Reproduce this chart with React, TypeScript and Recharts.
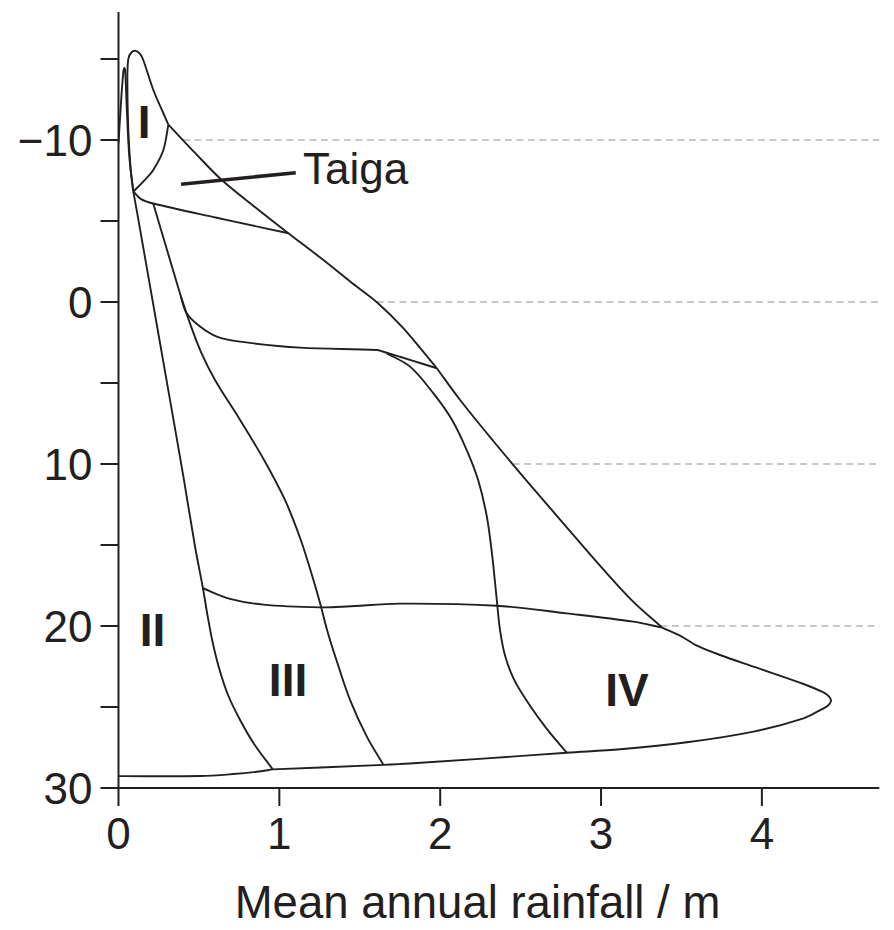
import React from 'react';
import { ComposedChart, Line, XAxis, YAxis, ReferenceLine, Scatter, Label } from 'recharts';

// Biome boundaries as (mean annual rainfall [m], mean annual temperature [°C]) pairs.
// The outer envelope is split at its corners so each piece is smoothed on its own.
const outerTundra: number[][] = [
  [0.092, -6.82], [0.076, -8.15], [0.061, -10.6], [0.055, -13.7], [0.061, -15.0],
  [0.08, -15.4], [0.108, -15.5], [0.135, -15.3], [0.154, -14.94], [0.216, -13.1],
  [0.279, -11.65], [0.31, -10.95],
];
const outerCool: number[][] = [
  [0.31, -10.95], [0.476, -9.2], [0.642, -7.53], [0.85, -5.85], [1.056, -4.24],
  [1.266, -2.65], [1.452, -1.17], [1.608, 0.03], [1.769, 1.6], [1.979, 4.09],
];
const outerWarm: number[][] = [
  [1.979, 4.09], [2.124, 6.05], [2.325, 8.52], [2.534, 10.99], [2.748, 13.46],
  [2.963, 15.93], [3.19, 18.4], [3.38, 20.1],
];
const outerTropical: number[][] = [
  [3.38, 20.1], [3.496, 20.62], [3.6, 21.23], [3.74, 21.79], [3.948, 22.51],
  [4.259, 23.58], [4.383, 24.1], [4.418, 24.36], [4.43, 24.62], [4.408, 24.94],
  [4.363, 25.19], [4.259, 25.7], [3.948, 26.52], [3.534, 27.18], [3.119, 27.61],
  [2.787, 27.82], [2.29, 28.17], [1.88, 28.44], [1.647, 28.57], [0.959, 28.85],
];
const outerDesert: number[][] = [
  [0.959, 28.85], [0.859, 29.0], [0.714, 29.14], [0.507, 29.26], [0, 29.27],
];
const boundarySpike: number[][] = [
  [0, -9.8], [0.016, -12.4], [0.03, -14.2], [0.036, -14.45], [0.042, -14.2],
  [0.051, -12.06], [0.067, -9.0], [0.092, -6.82],
];
const boundaryTaigaTop: number[][] = [
  [0.31, -10.95], [0.279, -9.38], [0.216, -8.15], [0.154, -7.43], [0.092, -6.82],
];
const boundaryTaigaBottom: number[][] = [
  [0.092, -6.82], [0.14, -6.35], [0.216, -6.08], [0.611, -5.2], [1.056, -4.24],
];
const boundaryIIWest: number[][] = [
  [0.092, -6.82], [0.115, -5.56], [0.233, 1.11], [0.342, 7.28], [0.407, 10.99],
  [0.476, 15.11], [0.525, 17.67], [0.553, 19.32], [0.585, 20.99], [0.625, 22.59],
  [0.681, 24.26], [0.756, 25.8], [0.843, 27.28], [0.959, 28.85],
];
const boundaryShelf: number[][] = [
  [0.216, -6.08], [0.386, -0.4], [0.424, 0.7], [0.507, 1.52], [0.611, 2.14],
  [0.756, 2.45], [1.129, 2.82], [1.606, 2.96], [1.647, 3.07], [1.75, 3.38], [1.979, 4.09],
];
const boundaryIIIEast: number[][] = [
  [0.386, -0.4], [0.448, 1.42], [0.513, 3.09], [0.6, 4.81], [0.756, 7.28],
  [0.905, 9.75], [1.035, 12.22], [1.129, 14.57], [1.197, 16.67], [1.253, 18.58],
  [1.302, 20.43], [1.365, 22.41], [1.44, 24.57], [1.544, 26.83], [1.647, 28.57],
];
const boundaryIVWest: number[][] = [
  [1.668, 3.17], [1.813, 3.99], [1.958, 5.64], [2.074, 7.28], [2.165, 9.14],
  [2.236, 10.99], [2.29, 13.25], [2.323, 15.62], [2.352, 18.4], [2.372, 20.25],
  [2.404, 21.85], [2.46, 23.33], [2.547, 24.75], [2.659, 26.3], [2.787, 27.82],
];
const boundaryMid: number[][] = [
  [0.525, 17.67], [0.693, 18.33], [0.9, 18.68], [1.253, 18.85], [1.419, 18.8],
  [1.75, 18.62], [2.352, 18.75], [2.787, 19.22], [3.2, 19.73], [3.38, 20.1],
];

const outerEnvelope = [outerTundra, outerCool, outerWarm, outerTropical, outerDesert];
const boundaries = [
  ...outerEnvelope, boundarySpike, boundaryTaigaTop, boundaryTaigaBottom,
  boundaryIIWest, boundaryShelf, boundaryIIIEast, boundaryIVWest, boundaryMid,
];

// Zone labels
const zoneLabels = [
  { r: 0.159, t: -11.1, text: 'I' },
  { r: 0.211, t: 20.2, text: 'II' },
  { r: 1.054, t: 23.33, text: 'III' },
  { r: 3.161, t: 23.95, text: 'IV' },
];
const taigaLabel = [{ r: 1.147, t: -8.27, text: 'Taiga' }];
const taigaPointer = [{ r: 0.389, t: -7.27 }, { r: 1.102, t: -7.98 }];

const xTicks = [0, 1, 2, 3, 4];
const yTicks = [-15, -10, -5, 0, 5, 10, 15, 20, 25, 30];
const yLabelled = [-10, 0, 10, 20, 30];
const gridLevels = [-10, 0, 10, 20];

const X_MAX = 4.73;
const Y_MIN = -17.9;
const Y_MAX = 30;

const INK = '#231f20';
const FONT = '"Liberation Sans", Arial, Helvetica, sans-serif';

const toPoints = (arr: number[][]) => arr.map(([r, t]) => ({ r, t }));

// Where the descending outer envelope first reaches a given temperature.
function envelopeCrossing(level: number): number {
  const path = outerEnvelope.flat();
  for (let i = 1; i < path.length; i++) {
    const [r0, t0] = path[i - 1];
    const [r1, t1] = path[i];
    if (t0 < level && t1 >= level) {
      return r0 + ((level - t0) / (t1 - t0)) * (r1 - r0);
    }
  }
  return 0;
}

// Catmull-Rom style curve with tangents scaled to the neighbouring segment lengths.
function smoothCurve(context: any) {
  let pts: [number, number][] = [];
  return {
    areaStart() {},
    areaEnd() {},
    lineStart() {
      pts = [];
    },
    point(x: number, y: number) {
      pts.push([+x, +y]);
    },
    lineEnd() {
      const n = pts.length;
      if (!n) return;
      context.moveTo(pts[0][0], pts[0][1]);
      if (n === 1) return;
      const d = (a: [number, number], b: [number, number]) => Math.hypot(b[0] - a[0], b[1] - a[1]);
      for (let i = 0; i < n - 1; i++) {
        const p0 = pts[Math.max(i - 1, 0)];
        const p1 = pts[i];
        const p2 = pts[i + 1];
        const p3 = pts[Math.min(i + 2, n - 1)];
        const d01 = d(p0, p1);
        const d12 = d(p1, p2);
        const d23 = d(p2, p3);
        const k1 = d01 + d12 > 0 ? d12 / (3 * (d01 + d12)) : 0;
        const k2 = d12 + d23 > 0 ? d12 / (3 * (d12 + d23)) : 0;
        context.bezierCurveTo(
          p1[0] + (p2[0] - p0[0]) * k1,
          p1[1] + (p2[1] - p0[1]) * k1,
          p2[0] - (p3[0] - p1[0]) * k2,
          p2[1] - (p3[1] - p1[1]) * k2,
          p2[0],
          p2[1]
        );
      }
    },
  };
}

const formatY = (v: number) =>
  yLabelled.includes(v) ? (v < 0 ? `\u2212${Math.abs(v)}` : String(v)) : '';

const renderZone = (props: any) => {
  const { cx, cy, payload } = props;
  return (
    <text
      x={cx}
      y={cy}
      dy="0.355em"
      textAnchor="middle"
      fontFamily={FONT}
      fontSize={46}
      fontWeight="bold"
      fill={INK}
    >
      {payload.text}
    </text>
  );
};

const renderTaiga = (props: any) => {
  const { cx, cy, payload } = props;
  return (
    <text x={cx} y={cy} dy="0.355em" textAnchor="start" fontFamily={FONT} fontSize={44} fill={INK}>
      {payload.text}
    </text>
  );
};

const renderXTitle = (props: any) => {
  const vb = props.viewBox || { x: 0, y: 0, width: 0, height: 0 };
  return (
    <text
      x={vb.x + 359}
      y={vb.y + 130}
      textAnchor="middle"
      fontFamily={FONT}
      fontSize={45.5}
      fill={INK}
    >
      Mean annual rainfall / m
    </text>
  );
};

export default function App() {
  return (
    <div style={{ width: 886, height: 922, fontFamily: FONT }}>
      <ComposedChart
        width={886}
        height={922}
        margin={{ top: 4, right: 14.7, bottom: 0, left: 0 }}
      >
        <XAxis
          dataKey="r"
          type="number"
          domain={[0, X_MAX]}
          allowDataOverflow
          ticks={xTicks}
          interval={0}
          height={142}
          tickSize={18}
          tickMargin={12}
          stroke={INK}
          axisLine={{ stroke: INK, strokeWidth: 2 }}
          tickLine={{ stroke: INK, strokeWidth: 2 }}
          tick={{ fontSize: 44, fill: INK, fontFamily: FONT }}
        >
          <Label content={renderXTitle} />
        </XAxis>
        <YAxis
          dataKey="t"
          type="number"
          domain={[Y_MIN, Y_MAX]}
          allowDataOverflow
          reversed
          ticks={yTicks}
          interval={0}
          width={110.5}
          tickSize={18}
          tickMargin={8}
          tickFormatter={formatY}
          stroke={INK}
          axisLine={{ stroke: INK, strokeWidth: 2 }}
          tickLine={{ stroke: INK, strokeWidth: 2 }}
          tick={{ fontSize: 44, fill: INK, fontFamily: FONT }}
        />
        {gridLevels.map((lv) => (
          <ReferenceLine
            key={`grid-${lv}`}
            segment={[
              { x: envelopeCrossing(lv), y: lv },
              { x: X_MAX, y: lv },
            ]}
            stroke="#c8c8c8"
            strokeWidth={2}
            strokeDasharray="7 4.5"
            ifOverflow="visible"
          />
        ))}
        <ReferenceLine
          segment={[
            { x: taigaPointer[0].r, y: taigaPointer[0].t },
            { x: taigaPointer[1].r, y: taigaPointer[1].t },
          ]}
          stroke={INK}
          strokeWidth={3.6}
          ifOverflow="visible"
        />
        {boundaries.map((b, i) => (
          <Line
            key={`b-${i}`}
            data={toPoints(b)}
            dataKey="t"
            type={smoothCurve as any}
            stroke={INK}
            strokeWidth={1.9}
            strokeLinejoin="round"
            dot={false}
            activeDot={false}
            isAnimationActive={false}
            legendType="none"
          />
        ))}
        <Scatter data={zoneLabels} dataKey="t" shape={renderZone} isAnimationActive={false} />
        <Scatter data={taigaLabel} dataKey="t" shape={renderTaiga} isAnimationActive={false} />
      </ComposedChart>
    </div>
  );
}
